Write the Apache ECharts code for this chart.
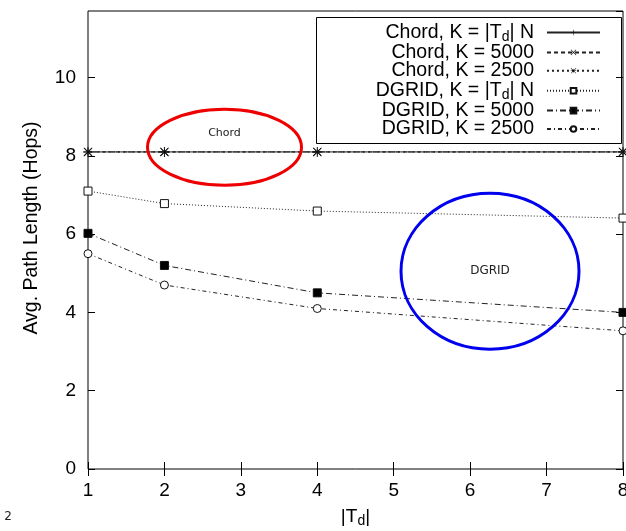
<!DOCTYPE html>
<html>
<head>
<meta charset="utf-8">
<script src="https://cdn.jsdelivr.net/npm/echarts@6/dist/echarts.min.js"></script>
<style>html,body{margin:0;padding:0;background:#fff}#c{width:626px;height:531px}</style>
</head>
<body>
<div id="c"></div>
<script>
const xValues = [1, 2, 4, 8];
const chordTdN = [8.1, 8.1, 8.1, 8.1];
const chord5000 = [8.1, 8.1, 8.1, 8.1];
const chord2500 = [8.1, 8.1, 8.1, 8.1];
const dgridTdN = [7.1, 6.78, 6.59, 6.41];
const dgrid5000 = [6.02, 5.2, 4.5, 4.0];
const dgrid2500 = [5.5, 4.7, 4.1, 3.53];
const xTicks = [1, 2, 3, 4, 5, 6, 7, 8];
const yTicks = [0, 2, 4, 6, 8, 10];

const FONT = 'Liberation Sans';
const pair = (ys) => xValues.map((x, i) => [x, ys[i]]);

const plusPath = 'path://M0,4.5H10V5.5H0Z M4.5,0H5.5V10H4.5Z';
const crossPath = 'path://M0.7,0L10,9.3L9.3,10L0,0.7Z M9.3,0L10,0.7L0.7,10L0,9.3Z';
const starPath = 'path://M0.7,0L10,9.3L9.3,10L0,0.7Z M9.3,0L10,0.7L0.7,10L0,9.3Z M0,4.6H10V5.4H0Z M4.6,1.5H5.4V8.5H4.6Z';

function td(prefix, suffix) {
  return '{a|' + prefix + '|T}{s|d}{a|| ' + suffix + '}';
}

const names = [
  'Chord, K = |Td| N', 'Chord, K = 5000', 'Chord, K = 2500',
  'DGRID, K = |Td| N', 'DGRID, K = 5000', 'DGRID, K = 2500'
];

function mkSeries(name, data, dash, symbol, size, fill, z) {
  return {
    name: name, type: 'line', data: pair(data), z: z,
    symbol: symbol, symbolSize: size, showSymbol: true,
    lineStyle: { color: '#222', width: 1, type: dash },
    itemStyle: { color: fill, borderColor: '#111', borderWidth: (symbol === 'rect' || symbol === 'circle') ? 1 : 0 },
    emphasis: { disabled: true },
    animation: false
  };
}

const series = [
  mkSeries(names[0], chordTdN, 'solid', plusPath, 10, '#111', 3),
  mkSeries(names[1], chord5000, [4, 3], crossPath, 9, '#111', 3),
  mkSeries(names[2], chord2500, [2, 3], starPath, 8, '#111', 3),
  mkSeries(names[3], dgridTdN, [1, 2], 'rect', 8, '#fff', 3),
  mkSeries(names[4], dgrid5000, [6, 3, 1, 3], 'rect', 8, '#000', 3),
  mkSeries(names[5], dgrid2500, [4, 3, 1, 3], 'circle', 8, '#fff', 3)
];

const chart = echarts.init(document.getElementById('c'), null, { renderer: 'canvas' });

const tickStyle = { inside: true, length: 7, lineStyle: { color: '#000', width: 1 } };
const xBase = { type: 'value', min: 1, max: 8, interval: 1, splitLine: { show: false }, axisLine: { show: false }, axisTick: tickStyle };
const yBase = { type: 'value', min: 0, max: 11.7, interval: 2, splitLine: { show: false }, axisLine: { show: false }, axisTick: tickStyle };

chart.setOption({
  backgroundColor: '#fff',
  animation: false,
  textStyle: { fontFamily: FONT },
  grid: { left: 88, right: 3, top: 11, bottom: 62, containLabel: false, outerBoundsMode: 'none',
    show: true, borderColor: '#000', borderWidth: 1, backgroundColor: 'transparent' },
  xAxis: [
    Object.assign({}, xBase, {
      position: 'bottom',
      name: '{a||T}{s|d}{a||}', nameLocation: 'middle', nameGap: 36,
      nameTextStyle: { rich: { a: { fontSize: 19, fontFamily: FONT, color: '#000' }, s: { fontSize: 14, fontFamily: FONT, color: '#000', padding: [9, 0, 0, 0] } } },
      axisLabel: { fontSize: 19, fontFamily: FONT, color: '#000', margin: 12,
        formatter: v => xTicks.includes(v) ? String(v) : '' }
    }),
    Object.assign({}, xBase, { position: 'top', axisLabel: { show: false } })
  ],
  yAxis: [
    Object.assign({}, yBase, {
      position: 'left',
      name: 'Avg. Path Length (Hops)', nameLocation: 'middle', nameGap: 46,
      nameTextStyle: { fontSize: 19.5, fontFamily: FONT, color: '#000', padding: [0, 0, 0, 24] },
      axisLabel: { fontSize: 19, fontFamily: FONT, color: '#000', margin: 12, showMaxLabel: false,
        formatter: v => yTicks.includes(v) ? String(v) : '' }
    }),
    Object.assign({}, yBase, { position: 'right', axisLabel: { show: false } })
  ],
  legend: {
    orient: 'vertical', right: 25, top: 21, align: 'right',
    itemWidth: 53, itemHeight: 7, itemGap: -1.6, padding: 0,
    selectedMode: false,
    data: names,
    formatter: function (n) {
      if (n === names[0]) return td('Chord, K = ', 'N');
      if (n === names[3]) return td('DGRID, K = ', 'N');
      return '{a|' + n + '}';
    },
    textStyle: {
      padding: [0, 8, 0, 0],
      rich: {
        a: { fontSize: 19.5, fontFamily: FONT, color: '#000', lineHeight: 19.3 },
        s: { fontSize: 14, fontFamily: FONT, color: '#000', lineHeight: 19.3, padding: [9, 0, 0, 0] }
      }
    }
  },
  series: series
});

function drawAnnotations() {
  const red = chart.convertToPixel({ gridIndex: 0 }, [2.786, 8.22]);
  const blue = chart.convertToPixel({ gridIndex: 0 }, [6.26, 5.05]);
  chart.setOption({
    graphic: [
      { type: 'rect', shape: { x: 316.5, y: 17.5, width: 305, height: 126 }, style: { fill: 'none', stroke: '#000', lineWidth: 1 }, z: 1, silent: true },
      { type: 'ellipse', shape: { cx: red[0], cy: red[1], rx: 77, ry: 38 }, style: { fill: 'none', stroke: '#ee0000', lineWidth: 3 }, z: 10, silent: true },
      { type: 'ellipse', shape: { cx: blue[0], cy: blue[1], rx: 89, ry: 78 }, style: { fill: 'none', stroke: '#0000ee', lineWidth: 3 }, z: 10, silent: true },
      { type: 'text', x: red[0], y: red[1] - 14, style: { text: 'Chord', font: '11px "DejaVu Sans"', fill: '#222', align: 'center', verticalAlign: 'middle' }, z: 10, silent: true },
      { type: 'text', x: blue[0], y: blue[1], style: { text: 'DGRID', font: '12px "DejaVu Sans"', fill: '#222', align: 'center', verticalAlign: 'middle' }, z: 10, silent: true },
      { type: 'text', x: 8, y: 517, style: { text: '2', font: '12px "DejaVu Sans"', fill: '#222', align: 'center', verticalAlign: 'middle' }, z: 10, silent: true }
    ]
  });
}
drawAnnotations();
</script>
</body>
</html>
